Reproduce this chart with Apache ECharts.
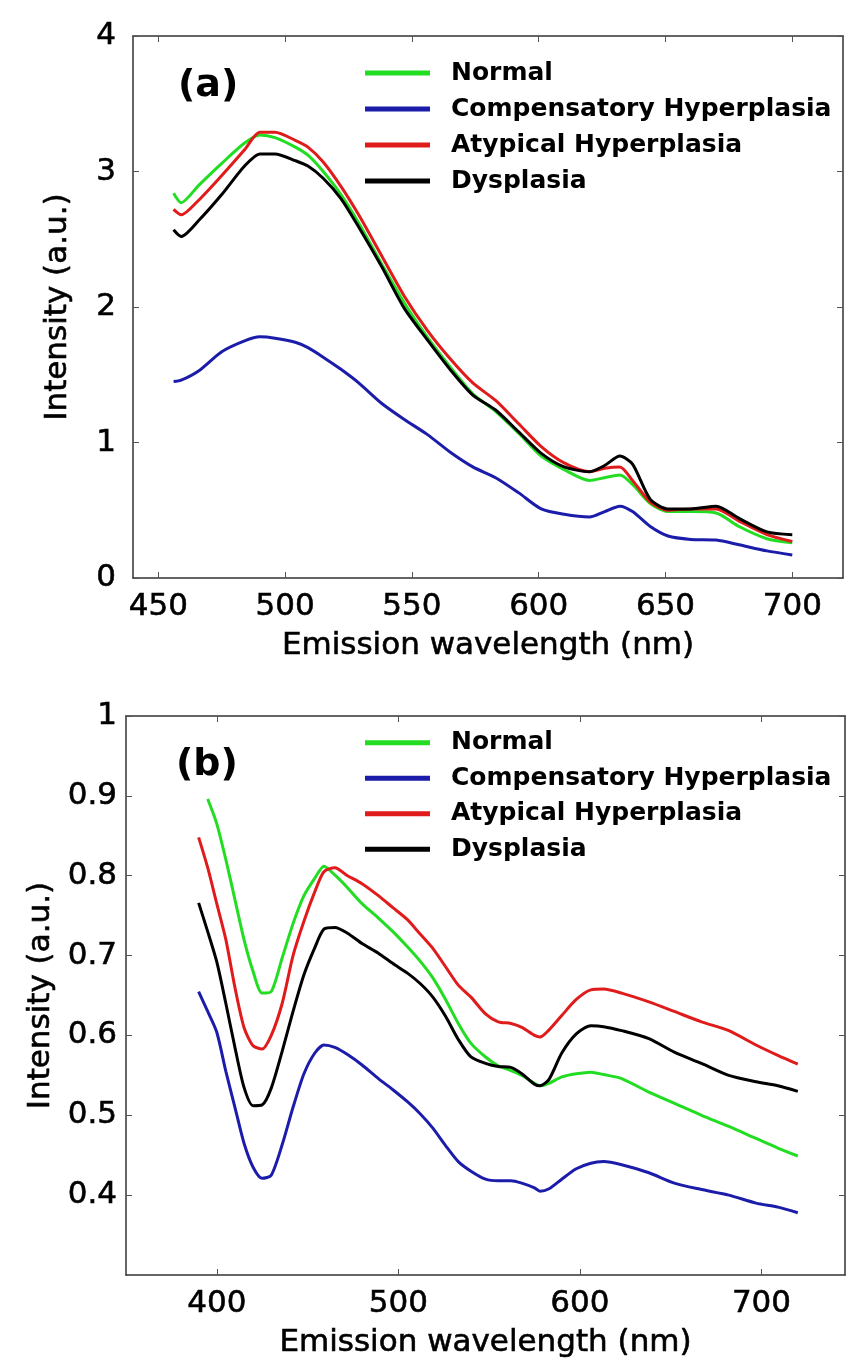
<!DOCTYPE html>
<html>
<head>
<meta charset="utf-8">
<script src="https://cdn.jsdelivr.net/npm/echarts@6/dist/echarts.min.js"></script>
<style>
  html, body { margin: 0; padding: 0; background: #fff; overflow: hidden; }
  #chart { width: 846px; height: 1364px; }
</style>
</head>
<body>
<div id="chart"></div>
<script>
// names shared by both panels
const names = ["Normal", "Compensatory Hyperplasia", "Atypical Hyperplasia", "Dysplasia"];
const colors = ["#22dd22", "#1c1caa", "#e01b1b", "#000000"];

// panel (a)
const waveA = [456, 459, 466, 475, 484, 490, 496, 504, 509, 515, 522, 529, 538, 547, 556, 565,
    574, 583, 592, 601, 610, 620, 626, 632, 637, 644, 651, 660, 670, 679, 690, 700];
const normalA = [2.84, 2.77, 2.90, 3.06, 3.21, 3.27, 3.25, 3.18, 3.12, 3.00, 2.83, 2.62, 2.32, 2.03, 1.78, 1.56,
    1.36, 1.23, 1.07, 0.90, 0.80, 0.72, 0.74, 0.76, 0.69, 0.55, 0.49, 0.49, 0.48, 0.38, 0.29, 0.26];
const compA = [1.45, 1.46, 1.53, 1.67, 1.75, 1.78, 1.77, 1.74, 1.70, 1.63, 1.54, 1.44, 1.29, 1.17, 1.06, 0.93,
    0.82, 0.74, 0.63, 0.51, 0.47, 0.45, 0.49, 0.53, 0.49, 0.38, 0.31, 0.285, 0.28, 0.245, 0.20, 0.17];
const atypA = [2.72, 2.68, 2.79, 2.97, 3.16, 3.29, 3.29, 3.23, 3.18, 3.07, 2.89, 2.68, 2.38, 2.08, 1.83, 1.62,
    1.44, 1.31, 1.14, 0.97, 0.85, 0.785, 0.81, 0.82, 0.72, 0.56, 0.50, 0.51, 0.51, 0.42, 0.32, 0.27];
const dysA = [2.57, 2.52, 2.64, 2.83, 3.04, 3.13, 3.13, 3.08, 3.04, 2.95, 2.80, 2.59, 2.30, 1.99, 1.76, 1.54,
    1.35, 1.24, 1.08, 0.92, 0.82, 0.785, 0.83, 0.90, 0.84, 0.58, 0.51, 0.51, 0.53, 0.44, 0.34, 0.32];
const xTicksA = [450, 500, 550, 600, 650, 700];
const yTicksA = [0, 1, 2, 3, 4];

// panel (b)
const waveB = [390, 395, 400, 405, 410, 415, 420, 425, 430, 436, 442, 448, 454, 459, 465, 472, 480, 489, 497,
    505, 512, 519, 526, 533, 540, 548, 555, 562, 568, 575, 578, 583, 590, 598, 606, 613, 623, 638, 652, 667,
    682, 697, 709, 720];
const normalB = [null, 0.896, 0.865, 0.82, 0.77, 0.72, 0.68, 0.653, 0.655, 0.697, 0.74, 0.775, 0.797, 0.812,
    0.801, 0.785, 0.765, 0.747, 0.73, 0.711, 0.693, 0.672, 0.645, 0.615, 0.59, 0.573, 0.562, 0.556, 0.55,
    0.54, 0.537, 0.54, 0.548, 0.552, 0.554, 0.551, 0.546, 0.529, 0.515, 0.50, 0.486, 0.471, 0.459, 0.449];
const compB = [0.655, 0.63, 0.604, 0.555, 0.51, 0.465, 0.435, 0.421, 0.425, 0.463, 0.51, 0.552, 0.578, 0.588,
    0.585, 0.576, 0.563, 0.546, 0.532, 0.517, 0.502, 0.484, 0.462, 0.442, 0.43, 0.42, 0.418, 0.418, 0.415,
    0.409, 0.405, 0.408, 0.42, 0.433, 0.44, 0.442, 0.438, 0.428, 0.415, 0.407, 0.40, 0.39, 0.385, 0.378];
const atypB = [0.848, 0.81, 0.765, 0.72, 0.66, 0.61, 0.587, 0.583, 0.60, 0.64, 0.70, 0.743, 0.78, 0.805,
    0.81, 0.80, 0.79, 0.775, 0.76, 0.745, 0.727, 0.709, 0.686, 0.663, 0.648, 0.627, 0.617, 0.615, 0.61,
    0.60, 0.598, 0.607, 0.625, 0.645, 0.657, 0.658, 0.653, 0.642, 0.63, 0.617, 0.606, 0.588, 0.575, 0.564];
const dysB = [0.766, 0.73, 0.692, 0.64, 0.585, 0.535, 0.512, 0.513, 0.534, 0.58, 0.63, 0.676, 0.71, 0.733,
    0.735, 0.728, 0.715, 0.703, 0.69, 0.678, 0.665, 0.648, 0.624, 0.595, 0.573, 0.565, 0.561, 0.56, 0.552,
    0.539, 0.537, 0.545, 0.578, 0.602, 0.612, 0.611, 0.606, 0.596, 0.579, 0.565, 0.55, 0.542, 0.537, 0.53];
const xTicksB = [400, 500, 600, 700];
const yTicksB = [0.4, 0.5, 0.6, 0.7, 0.8, 0.9, 1];

const font = "DejaVu Sans";
const axis_line = { show: true, onZero: false, lineStyle: { color: "#333", width: 1.5 } };
// slightly heavier strokes, the source text looks thick
const text_heavy = { fontFamily: font, fontSize: 31, color: "#000", textBorderColor: "#000", textBorderWidth: 0.6 };

function main_x(grid, min, max, ticks) {
    return {
        gridIndex: grid, type: "value", min: min, max: max,
        axisLine: axis_line,
        axisTick: { inside: true, length: 6, customValues: ticks, lineStyle: { color: "#555" } },
        axisLabel: { customValues: ticks, ...text_heavy, margin: 13 },
        splitLine: { show: false },
        name: "Emission wavelength (nm)", nameLocation: "middle", nameGap: 52,
        nameTextStyle: text_heavy,
    };
}
function mirror_x(grid, min, max, ticks) {
    return {
        gridIndex: grid, type: "value", position: "top", min: min, max: max,
        axisLine: axis_line,
        axisTick: { inside: true, length: 6, customValues: ticks, lineStyle: { color: "#555" } },
        axisLabel: { show: false },
        splitLine: { show: false },
    };
}
function main_y(grid, min, max, ticks, margin, gap) {
    return {
        gridIndex: grid, type: "value", min: min, max: max,
        axisLine: axis_line,
        axisTick: { inside: true, length: 6, customValues: ticks, lineStyle: { color: "#555" } },
        axisLabel: { customValues: ticks, ...text_heavy, margin: margin },
        splitLine: { show: false },
        name: "Intensity (a.u.)", nameLocation: "middle", nameGap: gap, nameRotate: 90,
        nameTextStyle: text_heavy,
    };
}
function mirror_y(grid, min, max, ticks) {
    return {
        gridIndex: grid, type: "value", position: "right", min: min, max: max,
        axisLine: axis_line,
        axisTick: { inside: true, length: 6, customValues: ticks, lineStyle: { color: "#555" } },
        axisLabel: { show: false },
        splitLine: { show: false },
    };
}
function legend_for(top, lineHeight) {
    return {
        orient: "vertical", left: 365, top: top, padding: 0,
        itemWidth: 65, itemHeight: 5, itemGap: 0, icon: "rect",
        selectedMode: false,
        textStyle: { fontFamily: font, fontWeight: "bold", fontSize: 25, color: "#000",
            lineHeight: lineHeight, padding: [0, 0, 0, 16] },
        data: names,
    };
}

const panelA = [normalA, compA, atypA, dysA];
const panelB = [normalB, compB, atypB, dysB];
let series = [];
panelA.forEach((vals, i) => {
    series.push({
        name: names[i], type: "line", xAxisIndex: 0, yAxisIndex: 0,
        showSymbol: false, smooth: 0.25, color: colors[i],
        lineStyle: { width: 3 },
        data: waveA.map((w, j) => [w, vals[j]]),
    });
});
panelB.forEach((vals, i) => {
    series.push({
        name: names[i], type: "line", xAxisIndex: 2, yAxisIndex: 2,
        showSymbol: false, smooth: 0.25, color: colors[i],
        lineStyle: { width: 3 },
        data: waveB.map((w, j) => [w, vals[j]]).filter(p => p[1] !== null),
    });
});

const chart = echarts.init(document.getElementById("chart"));
chart.setOption({
    animation: false,
    backgroundColor: "#fff",
    grid: [
        { left: 133, top: 36, right: 3, bottom: 786 },
        { left: 126, top: 716, right: 1, bottom: 89 },
    ],
    xAxis: [
        main_x(0, 440, 720, xTicksA), mirror_x(0, 440, 720, xTicksA),
        main_x(1, 350, 746, xTicksB), mirror_x(1, 350, 746, xTicksB),
    ],
    yAxis: [
        main_y(0, 0, 4, yTicksA, 17, 60), mirror_y(0, 0, 4, yTicksA),
        main_y(1, 0.3, 1, yTicksB, 9, 60), mirror_y(1, 0.3, 1, yTicksB),
    ],
    legend: [legend_for(55, 36), legend_for(725, 35.5)],
    graphic: [
        { type: "text", left: 178, top: 67, style: { text: "(a)", font: "bold 38px \"DejaVu Sans\"", fill: "#000" } },
        { type: "text", left: 176, top: 746, style: { text: "(b)", font: "bold 38px \"DejaVu Sans\"", fill: "#000" } },
    ],
    series: series,
});
</script>
</body>
</html>
